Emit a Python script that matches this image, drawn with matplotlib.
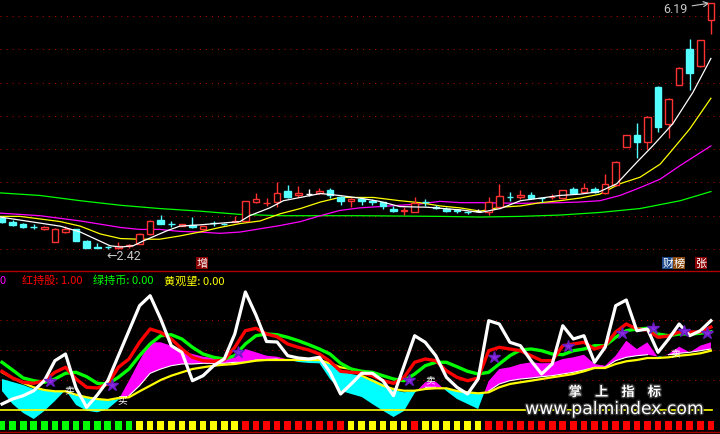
import numpy as np
import matplotlib.pyplot as plt
import matplotlib.patheffects as pe

plt.rcParams['font.family'] = ['Noto Sans CJK SC', 'DejaVu Sans']

# ---- K线 (68根) ----
opens = [2.90, 2.83, 2.80, 2.76, 2.73, 2.53, 2.68, 2.72, 2.54, 2.445,
         2.45, 2.43, 2.46, 2.50, 2.65, 2.86, 2.805, 2.77, 2.79, 2.72,
         2.82, 2.805, 2.835, 2.85, 3.145, 3.12, 3.14, 3.31, 3.24, 3.27,
         3.28, 3.32, 3.21, 3.16, 3.19, 3.15, 3.14, 3.04, 3.00, 2.99,
         3.14, 3.06, 3.04, 3.01, 2.985, 3.00, 2.98, 3.07, 3.215, 3.21,
         3.25, 3.20, 3.21, 3.20, 3.34, 3.30, 3.335, 3.28, 3.40, 3.99,
         4.17, 4.06, 4.91, 4.34, 4.94, 5.48, 5.22, 5.93]
highs = [2.93, 2.87, 2.82, 2.80, 2.77, 2.74, 2.77, 2.73, 2.56, 2.51,
         2.47, 2.52, 2.50, 2.66, 2.86, 2.94, 2.85, 2.81, 2.91, 2.78,
         2.85, 2.82, 2.93, 3.16, 3.28, 3.20, 3.44, 3.40, 3.39, 3.34,
         3.355, 3.355, 3.23, 3.20, 3.21, 3.19, 3.14, 3.08, 3.06, 3.21,
         3.19, 3.09, 3.06, 3.04, 3.00, 3.03, 3.22, 3.42, 3.29, 3.32,
         3.30, 3.21, 3.26, 3.33, 3.37, 3.43, 3.375, 3.57, 3.77, 4.17,
         4.35, 4.46, 4.92, 4.73, 5.21, 5.64, 5.62, 6.19]
lows = [2.82, 2.77, 2.74, 2.73, 2.71, 2.52, 2.67, 2.54, 2.44, 2.43,
        2.42, 2.425, 2.44, 2.49, 2.63, 2.80, 2.75, 2.765, 2.74, 2.71,
        2.78, 2.79, 2.83, 2.85, 3.125, 3.08, 3.06, 3.20, 3.22, 3.23,
        3.27, 3.20, 3.10, 3.07, 3.10, 3.10, 3.04, 2.98, 2.94, 2.98,
        3.08, 3.03, 2.99, 2.97, 2.96, 2.98, 2.94, 3.07, 3.16, 3.19,
        3.19, 3.14, 3.19, 3.19, 3.27, 3.28, 3.275, 3.27, 3.39, 3.99,
        3.81, 3.95, 4.22, 4.12, 4.94, 4.86, 5.21, 5.72]
closes = [2.83, 2.79, 2.76, 2.755, 2.76, 2.73, 2.73, 2.55, 2.44, 2.44,
          2.445, 2.47, 2.475, 2.65, 2.85, 2.81, 2.80, 2.80, 2.76, 2.78,
          2.815, 2.80, 2.845, 3.16, 3.19, 3.13, 3.28, 3.22, 3.28, 3.27,
          3.31, 3.24, 3.16, 3.19, 3.15, 3.145, 3.08, 3.00, 3.02, 3.125,
          3.135, 3.055, 3.00, 3.005, 2.98, 3.00, 3.14, 3.23, 3.21, 3.25,
          3.20, 3.195, 3.215, 3.32, 3.28, 3.36, 3.29, 3.41, 3.76, 4.16,
          4.06, 4.45, 4.29, 4.72, 5.20, 5.11, 5.62, 6.19]

# 均线 (读图取点)
ma5_x = [-0.2, 5.5, 7.4, 10.2, 11.2, 12.4, 13.3, 15.6, 16.8, 18.7, 22.5, 23.4, 25.3, 26.6, 28.2,
         30.1, 31.9, 33.8, 35.7, 37.6, 40.2, 43.3, 45.2, 47.1, 49.0, 50.9, 52.7, 54.6, 56.5, 58.1,
         60.0, 61.5, 63.4, 65.3, 67.0]
ma5_y = [2.91, 2.77, 2.68, 2.47, 2.45, 2.47, 2.54, 2.70, 2.77, 2.79, 2.84, 2.93, 3.05, 3.16, 3.21,
         3.27, 3.24, 3.20, 3.15, 3.07, 3.06, 3.02, 2.98, 3.04, 3.16, 3.20, 3.24, 3.26, 3.30, 3.42,
         3.75, 4.00, 4.34, 4.82, 5.34]
ma10_x = [-0.2, 1.7, 5.5, 7.4, 9.3, 11.2, 13.0, 14.9, 16.8, 18.7, 20.6, 22.5, 24.4, 26.3, 28.2,
          30.1, 31.9, 35.1, 37.6, 39.5, 41.4, 43.3, 45.2, 47.1, 49.0, 50.9, 52.7, 54.6, 56.5, 58.4,
          60.3, 62.2, 63.2, 65.0, 67.0]
ma10_y = [2.92, 2.92, 2.84, 2.77, 2.65, 2.58, 2.57, 2.57, 2.62, 2.68, 2.75, 2.81, 2.85, 2.96, 3.04,
          3.14, 3.21, 3.21, 3.16, 3.13, 3.08, 3.05, 3.00, 3.06, 3.08, 3.13, 3.16, 3.20, 3.26, 3.42,
          3.52, 3.72, 3.91, 4.26, 4.73]
ma20_x = [-0.2, 3.6, 7.4, 11.2, 13.0, 14.9, 16.8, 18.7, 20.6, 22.5, 24.4, 26.3, 28.2, 30.1, 31.9,
          33.8, 35.7, 37.6, 39.5, 41.4, 43.3, 45.2, 49.0, 52.7, 54.6, 56.5, 58.4, 60.3, 62.2, 64.1, 67.0]
ma20_y = [2.97, 2.93, 2.85, 2.75, 2.72, 2.72, 2.69, 2.68, 2.66, 2.68, 2.73, 2.78, 2.84, 2.93, 3.01,
          3.05, 3.07, 3.09, 3.11, 3.15, 3.13, 3.13, 3.12, 3.13, 3.14, 3.16, 3.24, 3.36, 3.49, 3.70, 4.00]
ma60_x = [-0.2, 3.6, 7.4, 11.2, 14.9, 18.7, 22.5, 26.3, 33.8, 41.4, 45.2, 49.0, 52.7, 56.5, 60.3, 64.1, 67.0]
ma60_y = [3.28, 3.24, 3.16, 3.09, 3.04, 3.00, 2.95, 2.93, 2.93, 2.92, 2.91, 2.92, 2.94, 2.98, 3.04, 3.16, 3.30]

grid_top = [2.42, 2.93, 3.44, 3.95, 4.46, 4.97, 5.48, 5.99]

# ---- 副图指标 ----
white_v = [6, 11, 14.3, 19.3, 29.3, 49.3, 56, 22, 2.7, 15,
           29.3, 54.3, 79.3, 104.3, 114.3, 91, 64.3, 57.7, 29.3, 34.3,
           44.3, 51, 76, 118, 95, 68.5, 68, 54.3, 52, 51,
           52.7, 37.7, 16, 26, 36.7, 36.7, 29.3, 14.3, 44.3, 74.3,
           67.7, 54.3, 32.7, 22.7, 16, 31, 89.3, 86, 67.7, 64.3,
           49.3, 36, 46, 84.3, 71, 74.3, 47.7, 62.7, 104.3, 110,
           79.3, 81, 57.7, 71, 86, 74.3, 79.3, 89.3]
red_v = [38.7, 32, 27.7, 26.7, 29.3, 37.7, 42.7, 31, 22.7, 22,
         26, 42.7, 51, 67.7, 81, 77.7, 71, 61, 52.7, 49.3,
         48.7, 50, 62.7, 79.3, 81.7, 76, 73.3, 66, 62.7, 60,
         56, 48.7, 38.7, 37.7, 37, 34.3, 29.3, 26.7, 32.7, 47.7,
         51, 49.3, 39.3, 32.7, 29.3, 32, 59.3, 62.7, 61, 59.3,
         54.3, 49.3, 49.3, 64.3, 66, 67.7, 61, 64.3, 78, 86,
         81, 80, 72.7, 74, 78, 78, 78, 83]
green_v = [47.7, 40, 32, 29.3, 27.7, 31, 36.7, 37.7, 33.3, 26.7,
           26, 32.7, 41, 54.3, 66, 74.3, 75.3, 71, 62.7, 56,
           52.7, 51, 54.3, 66, 74.3, 76, 75.3, 72.7, 69.3, 65.3,
           61, 56, 46.7, 41, 38.7, 37.7, 34.3, 31, 29.3, 36,
           44.3, 47.7, 47.7, 43.3, 38.7, 36, 37.7, 46, 54.3, 60,
           61, 59.3, 56, 55.3, 59.3, 61, 64.3, 64.3, 72.7, 79.3,
           81, 81.7, 76, 74.3, 76, 76, 76.7, 78.3]
yellow_v = [37.7, 32, 27, 22.7, 20, 18.7, 18.7, 15.3, 12.7, 11,
            10, 12, 12.7, 18.7, 24.3, 30, 34.3, 37.7, 41, 42.7,
            44.3, 45.3, 46, 47.7, 49.3, 50, 50, 50, 50, 50,
            50, 46.7, 42.7, 41, 34.3, 29.3, 24.3, 21, 19.3, 19.3,
            21, 21.7, 21.7, 19, 17.7, 16.7, 17.7, 22.7, 26, 27.7,
            29.3, 31, 32.7, 34.3, 36, 38.7, 42, 42, 46, 48.7,
            50, 52, 52, 52.7, 54.3, 55.3, 56.7, 59.3]
base_v = [31, 28, 25, 21, 20, 19, 19, 15, 13, 11,
          9.3, 11, 14.3, 24.3, 36.7, 41, 44.3, 46, 46, 46.7,
          46.7, 46.7, 47.7, 47.7, 50, 50.5, 51, 51, 50, 50,
          50, 46, 39.3, 36, 34, 31, 26, 20, 17.7, 19,
          22.7, 22.7, 21, 19.3, 17.7, 16, 19, 26, 29.3, 31,
          32, 33.3, 34.3, 36, 37.7, 40, 42.7, 42.7, 49.3, 52.7,
          54.3, 55.3, 53.3, 55.3, 56.7, 57.7, 59.3, 61]
osc_v = [19, 6, -3, -9, -1, 9, 20, 5, -0.7, -2.3,
         1, 10, 29.3, 49.3, 67.7, 67.7, 64.3, 59.3, 56, 53.3,
         52, 51.5, 52, 61, 57.7, 54.3, 53.3, 50.5, 48, 47,
         46.7, 31, 19.3, 16, 13, 6, -0.7, -7, -1, 17,
         27.7, 28.3, 19, 11, 6, 1, 29, 41, 42.7, 46,
         47.7, 46.7, 47, 51, 52.7, 55.3, 46, 44.3, 54.3, 69.3,
         61, 67.7, 52.5, 56, 63.3, 57.7, 64.3, 67.7]
star_x = [4.5, 10.4, 22.3, 38.5, 46.5, 53.5, 58.6, 61.5, 64.5, 66.6]
star_v = [28.7, 25.3, 57.7, 30, 53.3, 64.3, 77.2, 81.7, 79.3, 77.2]
sig_x = [6.4, 11.4, 40.5, 63.6]
sig_v = [21, 11, 31, 57.7]
sig_t = ['卖', '买', '卖', '卖']
state = list('G' * 13 + 'Y' * 10 + 'R' * 10 + 'Y' * 6 + 'R' + 'Y' * 6 + 'R' * 22)
grid_low = [30, 60, 90]

RED = '#ff3232'
CYAN = '#54ffff'
GRIDRED = '#b00000'
DOTS = (0, (1, 4.8))

W, H = 720, 435
fig = plt.figure(figsize=(7.2, 4.35), dpi=100, facecolor='black')
ax1 = fig.add_axes([0, 1 - 270 / H, 1, 270 / H])
ax2 = fig.add_axes([0, 0, 1, 165 / H])
for ax in (ax1, ax2):
    ax.set_facecolor('black')
    ax.set_axis_off()
    ax.set_xlim(-0.19, 67.86)
ax1.set_ylim(2.1135, 6.251)
ax2.set_ylim(-24, 141)

# ---- 主图 ----
for g in grid_top:
    ax1.axhline(g, color=GRIDRED, lw=0.75, ls=DOTS, zorder=1)

o, h, l, c = map(np.array, (opens, highs, lows, closes))
idx = np.arange(len(c))
up, dn, eq = c > o, c < o, c == o
col = np.where(up, RED, np.where(dn, CYAN, 'white'))
top, bot = np.maximum(o, c), np.minimum(o, c)
bw = 0.62
ax1.vlines(idx, top, h, colors=col, lw=1, zorder=3)
ax1.vlines(idx, l, bot, colors=col, lw=1, zorder=3)
ax1.bar(idx[up], (c - o)[up], bottom=o[up], width=bw, facecolor='black',
        edgecolor=RED, lw=1, zorder=4)
ax1.bar(idx[dn], (o - c)[dn], bottom=c[dn], width=bw, facecolor=CYAN,
        edgecolor=CYAN, lw=1, zorder=4)
ax1.hlines(o[eq], idx[eq] - bw / 2, idx[eq] + bw / 2, colors='white', lw=1, zorder=4)

ax1.plot(ma60_x, ma60_y, color='#00ff00', lw=0.9, zorder=2)
ax1.plot(ma20_x, ma20_y, color='#ff00ff', lw=0.9, zorder=2)
ax1.plot(ma10_x, ma10_y, color='#ffff00', lw=0.9, zorder=2)
ax1.plot(ma5_x, ma5_y, color='white', lw=0.9, zorder=5)

hi = int(np.argmax(h))
lo = int(np.argmin(l))
ax1.annotate(f'{h[hi]:.2f}', xy=(hi, h[hi]), xytext=(-16.5, -3.8), textcoords='offset points',
             ha='right', va='center', color='#c8c8c8', fontsize=9, family=['Roboto', 'DejaVu Sans'],
             arrowprops=dict(arrowstyle='->', color='#c8c8c8', lw=0.8, shrinkA=1, shrinkB=1))
ax1.annotate(f'←{l[lo]:.2f}', xy=(lo, l[lo]), xytext=(-0.7, -5), textcoords='offset points',
             ha='left', va='center', color='#c8c8c8', fontsize=9, family=['Roboto', 'DejaVu Sans'])

def tag(x, s, fc):
    fig.text(x / W, 1 - 264 / H, s, color='white', fontsize=8, ha='center', va='center',
             bbox=dict(boxstyle='square,pad=0.08', fc=fc, ec='none'))

tag(202, '增', '#8b0000')
tag(668, '财', '#1e4a8c')
tag(679, '榜', '#8b4a10')
tag(701, '张', '#8b0000')

# ---- 副图 ----
ax2.axhline(139, color=GRIDRED, lw=1)
ax2.axhline(-22, color=GRIDRED, lw=1)
for g in grid_low:
    ax2.axhline(g, color=GRIDRED, lw=0.75, ls=DOTS, zorder=1)

base = np.array(base_v)
osc = np.array(osc_v)
ax2.fill_between(idx, base, osc, where=osc <= base, interpolate=True, color='#00ffff', lw=0, zorder=2)
ax2.fill_between(idx, base, osc, where=osc >= base, interpolate=True, color='#ff00ff', lw=0, zorder=2)
ax2.plot(idx, np.ma.masked_where(osc < base, base), color='white', lw=0.8, zorder=3)
ax2.axhline(0, xmin=0, xmax=712 / W, color='#ffff00', lw=1.2, zorder=3)

ax2.plot(idx, yellow_v, color='#ffff00', lw=1.6, zorder=4)
ax2.plot(idx, green_v, color='#00ff00', lw=2.4, zorder=5)
ax2.plot(idx, red_v, color='#ff0000', lw=2.4, zorder=6)
ax2.plot(idx, white_v, color='white', lw=2.3, zorder=7)
ax2.plot(star_x, star_v, ls='none', marker='*', ms=9, color='#8a2be2', mec='#6a1bc2', zorder=8)
for x, v, t in zip(sig_x, sig_v, sig_t):
    ax2.text(x, v, t, color='white', fontsize=7, ha='center', va='center', zorder=9)

sq_col = {'G': '#00ff00', 'Y': '#ffff00', 'R': '#ff0000'}
ax2.bar(idx, 9, bottom=-20, width=0.63, color=[sq_col[s] for s in state], lw=0, zorder=3)

# 指标标题
ty = 1 - 281 / H
fig.text(-1 / W, ty, '0', color='#ff00ff', fontsize=8, va='center')
fig.text(22 / W, ty, '红持股: 1.00', color='#ff0000', fontsize=8, va='center')
fig.text(93 / W, ty, '绿持币: 0.00', color='#00ff00', fontsize=8, va='center')
fig.text(164 / W, ty, '黄观望: 0.00', color='#ffff00', fontsize=8, va='center')

# 水印
stroke = [pe.withStroke(linewidth=2, foreground='#303030')]
fig.text(615 / W, 1 - 393 / H, '掌\u3000上\u3000指\u3000标', color='white', fontsize=9.5,
         fontweight='bold', ha='center', va='center', path_effects=stroke)
fig.text(615 / W, 1 - 410 / H, 'www.palmindex.com', color='white', fontsize=12.4,
         family='DejaVu Sans', ha='center', va='center', path_effects=stroke)

fig.savefig('out.png', dpi=100, facecolor='black')
